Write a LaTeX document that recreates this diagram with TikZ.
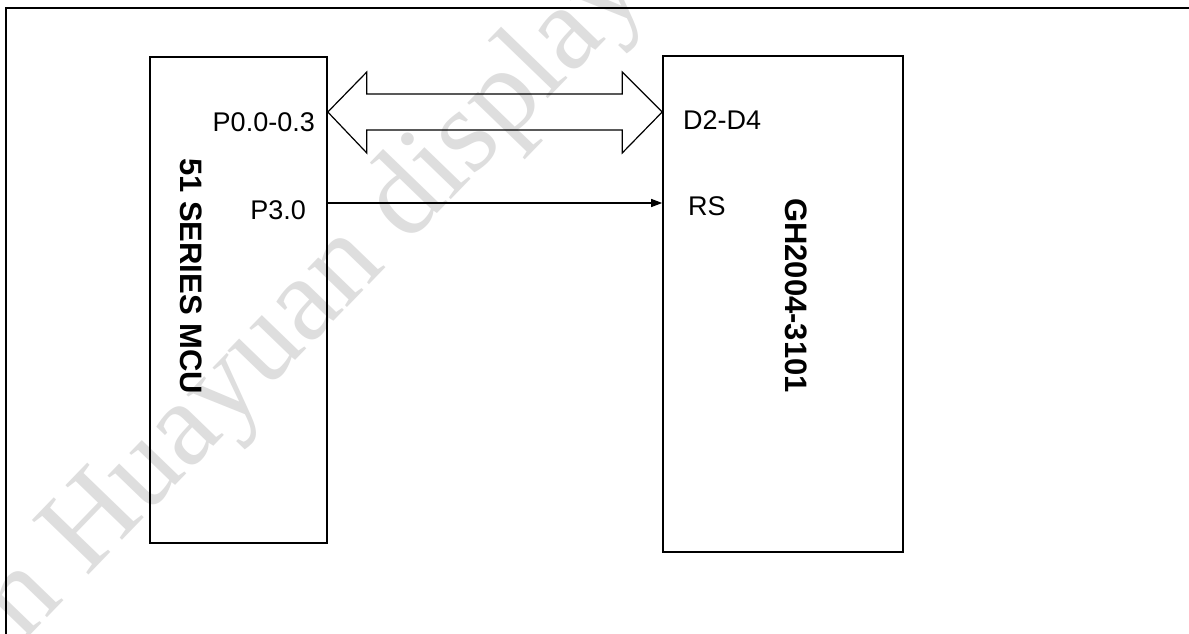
\documentclass[tikz,border=0pt]{standalone}
\usepackage{fontspec}
\setmainfont{Liberation Sans}
\newfontfamily\wmfont{Liberation Serif}
\usetikzlibrary{arrows.meta,calc}
\begin{document}
\begin{tikzpicture}[x=1pt,y=-1pt,
  box/.style={draw,line width=1.6pt,inner sep=0pt},
  lbl/.style={inner sep=0pt,font=\fontsize{27}{32}\selectfont},
  ttl/.style={inner sep=0pt,font=\fontsize{31}{36}\selectfont\bfseries,rotate=-90,anchor=base west},
  bus/.style={draw,line width=1.2pt,line join=miter},
  sig/.style={draw,line width=1.2pt,-{Triangle[length=11pt,width=8pt]}},
  wm/.style={inner sep=0pt,text=black!13,font=\wmfont\fontsize{120}{120}\selectfont,rotate=46,anchor=base west}]
\useasboundingbox (0,0) rectangle (1189,634);
\clip (0,0) rectangle (1189,634);
\fill[white] (0,0) rectangle (1189,634);
% watermark
\node[wm] (wmark) at (23.5,642.7) {n Huayuan display};
% outer frame (only top and left edges are inside the page)
\draw[line width=1.3pt] (6,8) rectangle (1300,700);
% blocks
\node[box,minimum width=177pt,minimum height=486pt] (mcu) at (238.5,300) {};
\node[box,minimum width=240pt,minimum height=496pt] (lcd) at (783,304) {};
% titles
\node[ttl] (mcut) at (180,158) {51 SERIES MCU};
\node[ttl] (lcdt) at (785,198) {GH2004-3101};
% pin labels
\node[lbl,anchor=base east] (p0) at (315,131.5) {P0.0-0.3};
\node[lbl,anchor=base east] (p3) at (306,219) {P3.0};
\node[lbl,anchor=base west] (d2) at (683,129) {D2-D4};
\node[lbl,anchor=base west] (rs) at (688,215) {RS};
% bus double arrow
\coordinate (bl) at (mcu.east |- 0,112);
\coordinate (br) at (lcd.west |- 0,112);
\draw[bus] (bl) -- ($(bl)+(39,-40)$) -- ($(bl)+(39,-18)$) -- ($(br)+(-40,-18)$)
  -- ($(br)+(-40,-40)$) -- (br) -- ($(br)+(-40,41)$) -- ($(br)+(-40,18)$)
  -- ($(bl)+(39,18)$) -- ($(bl)+(39,41)$) -- cycle;
% RS signal
\draw[sig] (mcu.east |- 0,203) -- (lcd.west |- 0,203);
\end{tikzpicture}
\end{document}
